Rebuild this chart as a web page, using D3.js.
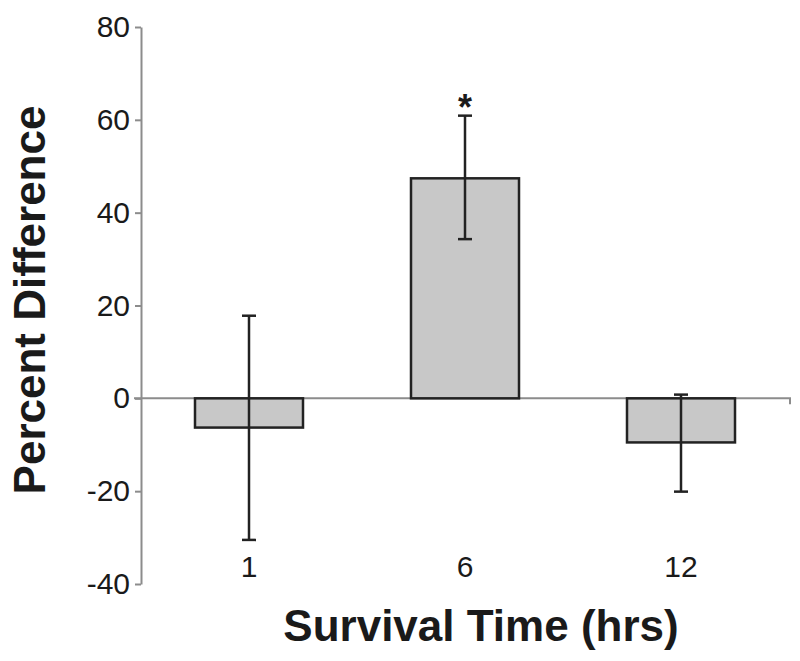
<!DOCTYPE html>
<html>
<head>
<meta charset="utf-8">
<script src="https://cdn.jsdelivr.net/npm/d3@7"></script>
<style>
  html, body { margin: 0; padding: 0; background: #fff; }
  svg { display: block; font-family: Arial, "Liberation Sans", Helvetica, sans-serif; }
</style>
</head>
<body>
<svg id="chart" width="800" height="661"></svg>
<script>
const categories = ["1", "6", "12"];
const means = [-6.3, 47.4, -9.5];
const errUpper = [17.8, 60.9, 0.8];
const errLower = [-30.5, 34.3, -20.1];
const significant = [false, true, false];
const yTicks = [-40, -20, 0, 20, 40, 60, 80];

const svg = d3.select("#chart");
const axisColor = "#8c8c8c";
const ink = "#1a1a1a";

const y = d3.scaleLinear().domain([-40, 80]).range([584, 27]);
const x = d3.scaleBand().domain(categories).range([141, 789])
  .paddingInner(0.5).paddingOuter(0.25);

// y axis
const yAxis = d3.axisLeft(y).tickValues(yTicks).tickFormat(d => String(d))
  .tickSize(6).tickPadding(5).tickSizeOuter(0);
const gy = svg.append("g").attr("transform", "translate(141,0)").call(yAxis);
gy.select(".domain").attr("stroke", axisColor).attr("stroke-width", 2);
gy.selectAll(".tick line").attr("stroke", axisColor).attr("stroke-width", 2);
gy.selectAll(".tick text").attr("fill", ink).attr("font-size", 30)
  .attr("font-family", "Arial, 'Liberation Sans', sans-serif");

// zero line with small right-end tick
svg.append("path")
  .attr("d", `M134,${y(0)}H790V${y(0) + 6}`)
  .attr("fill", "none").attr("stroke", axisColor).attr("stroke-width", 2);

// bars
const data = categories.map((c, i) => ({ c, m: means[i], hi: errUpper[i], lo: errLower[i], sig: significant[i] }));

svg.selectAll("rect.bar").data(data).enter().append("rect")
  .attr("class", "bar")
  .attr("x", d => x(d.c))
  .attr("width", x.bandwidth())
  .attr("y", d => y(Math.max(0, d.m)))
  .attr("height", d => Math.abs(y(d.m) - y(0)))
  .attr("fill", "#c8c8c8").attr("stroke", "#222").attr("stroke-width", 2.5);

// error bars
const cx = d => x(d.c) + x.bandwidth() / 2;
const eb = svg.selectAll("g.err").data(data).enter().append("g").attr("class", "err")
  .attr("stroke", "#222").attr("stroke-width", 2.5);
eb.append("line").attr("x1", cx).attr("x2", cx).attr("y1", d => y(d.hi)).attr("y2", d => y(d.lo));
eb.append("line").attr("x1", d => cx(d) - 7).attr("x2", d => cx(d) + 7).attr("y1", d => y(d.hi)).attr("y2", d => y(d.hi));
eb.append("line").attr("x1", d => cx(d) - 7).attr("x2", d => cx(d) + 7).attr("y1", d => y(d.lo)).attr("y2", d => y(d.lo));

// significance marker
svg.selectAll("text.sig").data(data.filter(d => d.sig)).enter().append("text")
  .attr("class", "sig")
  .attr("x", cx).attr("y", d => y(d.hi) + 4)
  .attr("text-anchor", "middle").attr("font-size", 36).attr("font-weight", "bold").attr("fill", ink)
  .text("*");

// x category labels
svg.selectAll("text.xl").data(categories).enter().append("text")
  .attr("class", "xl")
  .attr("x", d => x(d) + x.bandwidth() / 2).attr("y", 577)
  .attr("text-anchor", "middle").attr("font-size", 30).attr("fill", ink)
  .text(d => d);

// axis titles
svg.append("text")
  .attr("x", 481).attr("y", 641)
  .attr("text-anchor", "middle").attr("font-size", 44).attr("font-weight", "bold").attr("fill", ink)
  .text("Survival Time (hrs)");

svg.append("text")
  .attr("transform", "translate(45,300) rotate(-90)")
  .attr("text-anchor", "middle").attr("font-size", 44).attr("font-weight", "bold").attr("fill", ink)
  .text("Percent Difference");
</script>
</body>
</html>
